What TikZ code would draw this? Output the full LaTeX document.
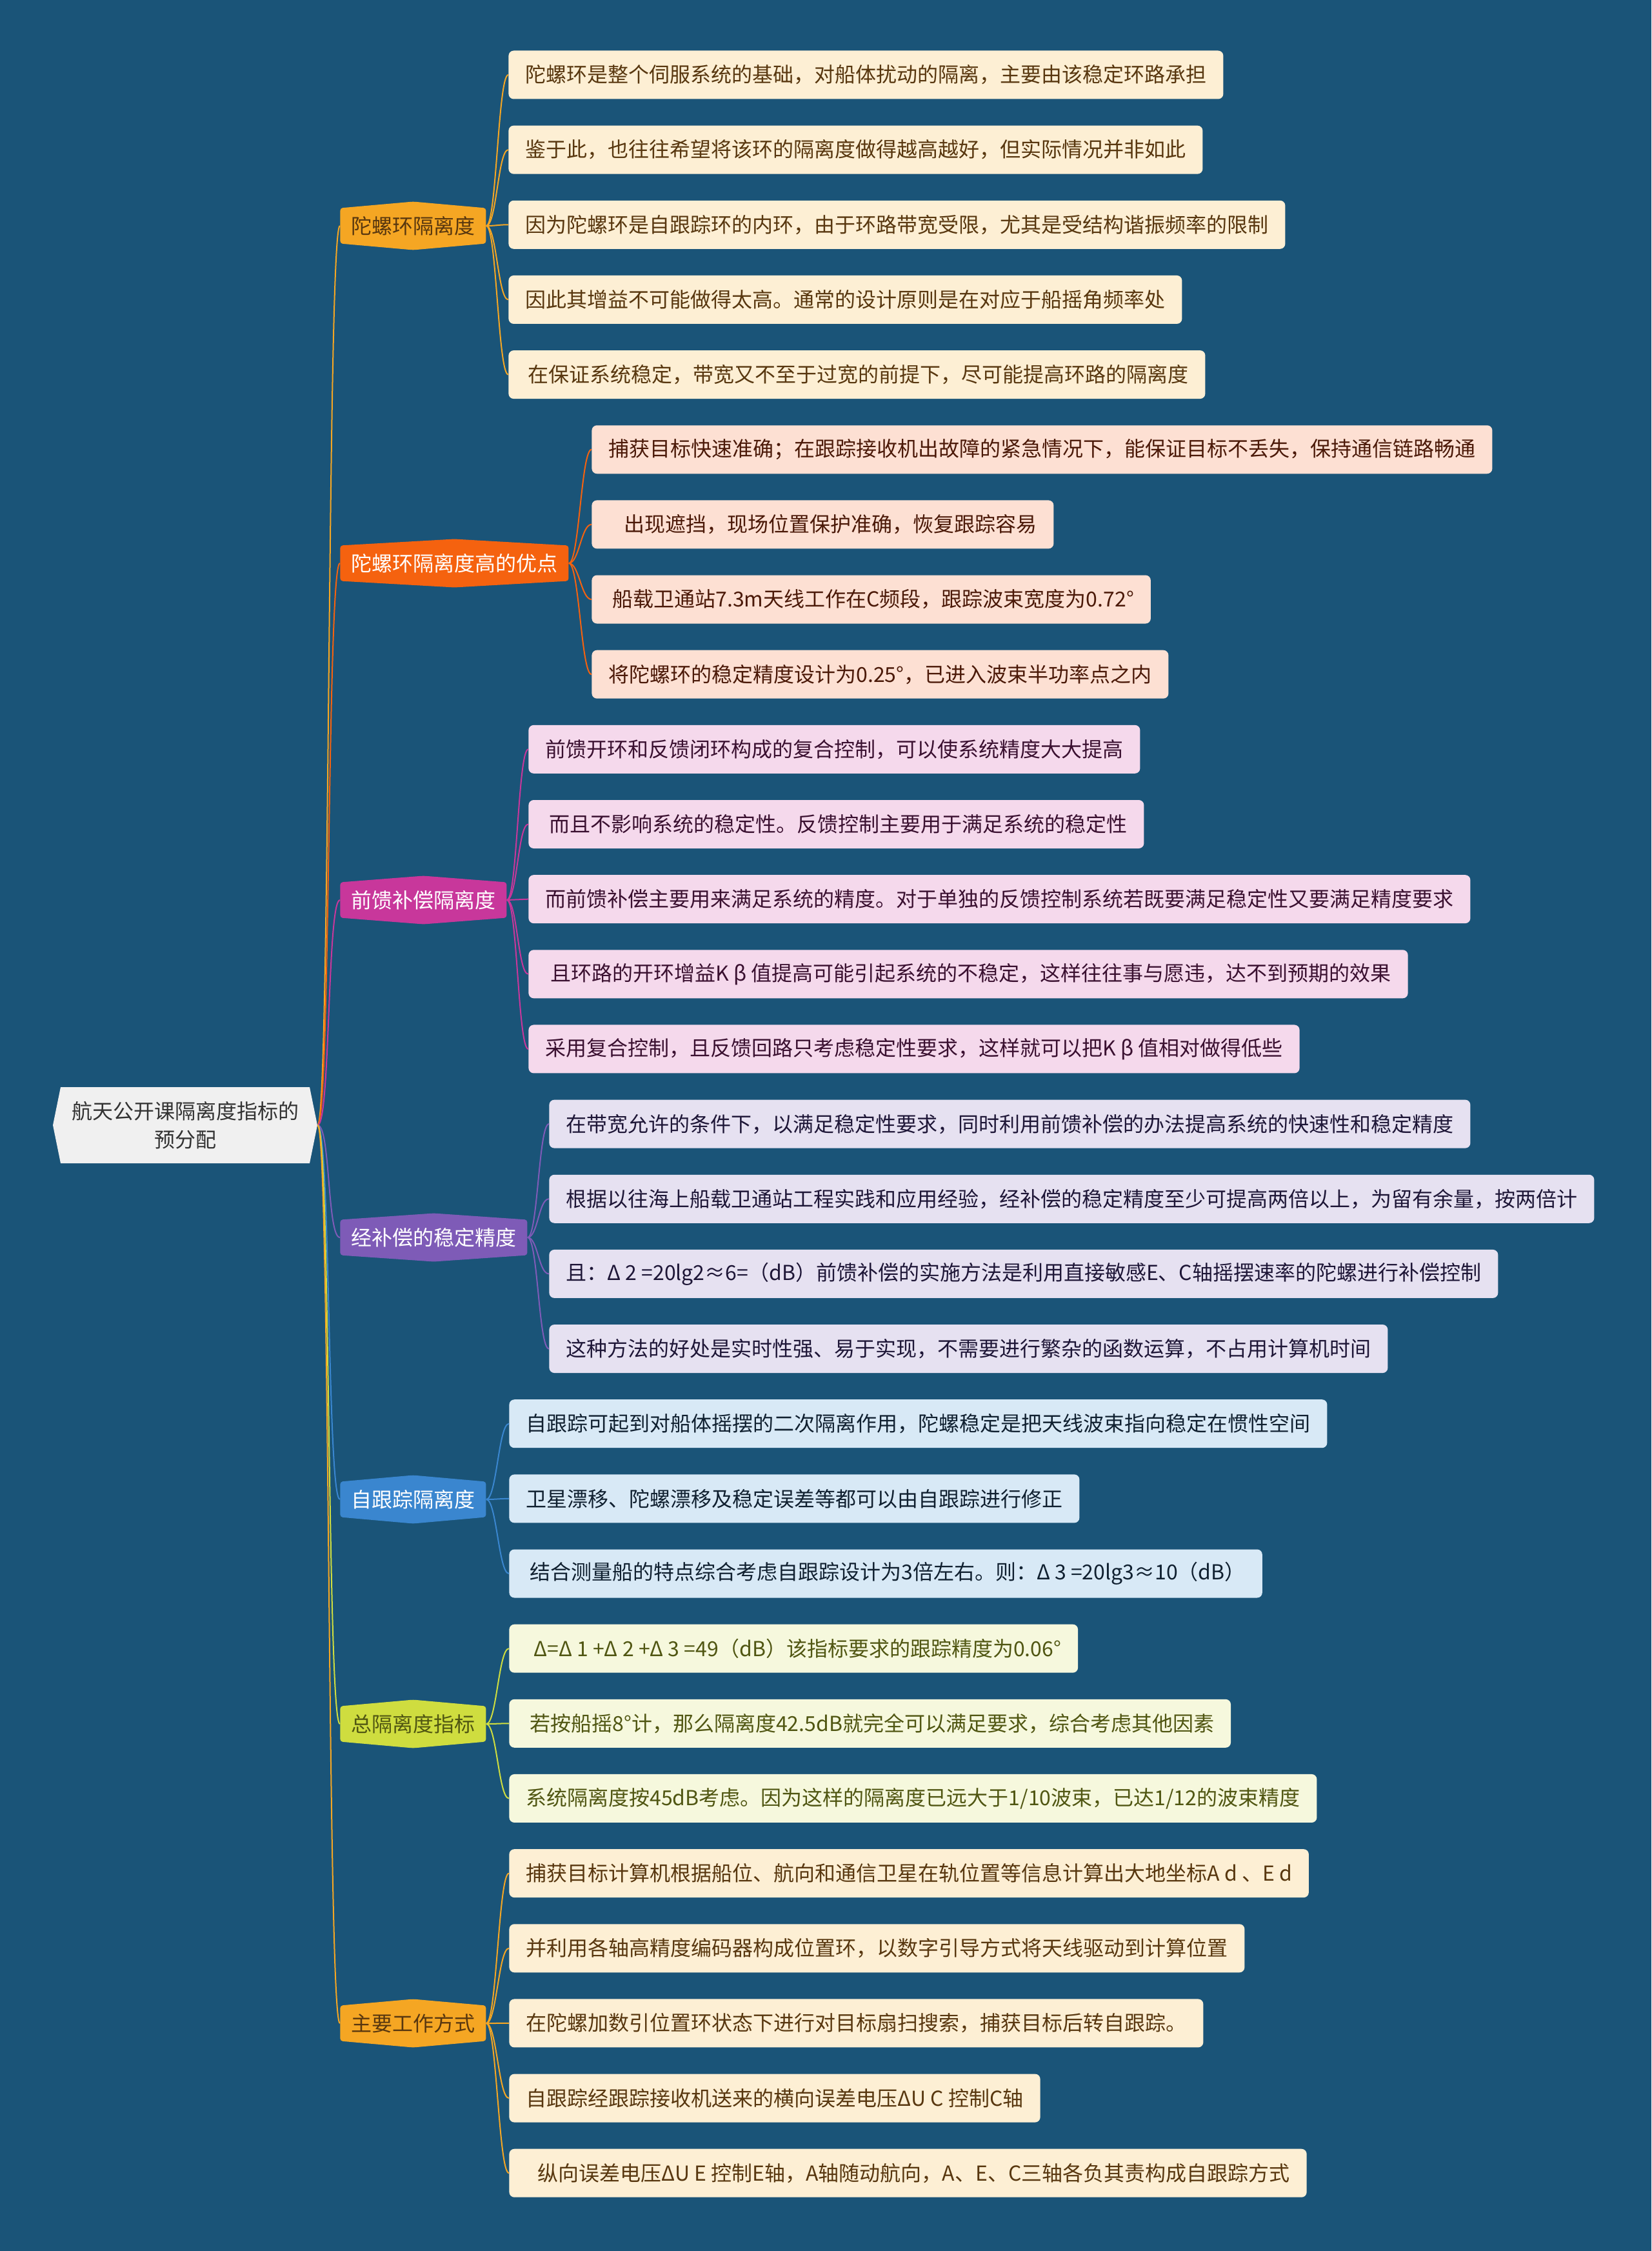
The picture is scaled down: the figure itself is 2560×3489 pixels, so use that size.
\documentclass[tikz,border=0pt]{standalone}
\usepackage{fontspec}
\setmainfont{Noto Sans CJK SC}
\usetikzlibrary{calc,positioning}

\definecolor{bg}{RGB}{26,84,120}
\definecolor{rootfill}{RGB}{240,240,240}
\definecolor{c1}{RGB}{245,166,35}
\definecolor{c2}{RGB}{245,98,15}
\definecolor{c3}{RGB}{200,55,155}
\definecolor{c4}{RGB}{126,91,183}
\definecolor{c5}{RGB}{58,134,207}
\definecolor{c6}{RGB}{207,221,63}
\definecolor{f1}{RGB}{253,239,212}
\definecolor{f2}{RGB}{253,224,211}
\definecolor{f3}{RGB}{245,217,236}
\definecolor{f4}{RGB}{230,225,241}
\definecolor{f5}{RGB}{216,233,246}
\definecolor{f6}{RGB}{246,248,221}
\definecolor{t1}{RGB}{88,55,15}
\definecolor{t2}{RGB}{75,25,8}
\definecolor{t3}{RGB}{58,16,48}
\definecolor{t4}{RGB}{30,22,55}
\definecolor{t5}{RGB}{16,32,48}
\definecolor{t6}{RGB}{80,86,18}
\newcommand\mapfont{\fontsize{16pt}{20pt}\selectfont}

\tikzset{
  root/.style={font=\fontsize{16pt}{22pt}\selectfont, align=center, text=black!80,
    minimum width=205pt, minimum height=59pt, inner sep=0pt, fill=bg,
    path picture={\fill[rootfill]
      ($(path picture bounding box.north west)+(6pt,0)$) --
      ($(path picture bounding box.north east)+(-6pt,0)$) --
      (path picture bounding box.east) --
      ($(path picture bounding box.south east)+(-6pt,0)$) --
      ($(path picture bounding box.south west)+(6pt,0)$) --
      (path picture bounding box.west) -- cycle;}},
  branch/.style={font=\mapfont, anchor=west, minimum height=37.5pt,
    inner xsep=8.5pt, inner ysep=0pt, fill=bg,
    path picture={\fill[#1, rounded corners=2pt]
      ($(path picture bounding box.north west)+(0,-5pt)$) --
      (path picture bounding box.north) --
      ($(path picture bounding box.north east)+(0,-5pt)$) --
      ($(path picture bounding box.south east)+(0,5pt)$) --
      (path picture bounding box.south) --
      ($(path picture bounding box.south west)+(0,5pt)$) -- cycle;}},
  leaf/.style={font=\mapfont, anchor=west, minimum height=37.5pt,
    inner xsep=13pt, inner ysep=0pt, rounded corners=4pt, fill=#1},
  link/.style={draw=#1, line width=1pt},
}

\begin{document}
\begin{tikzpicture}[x=0.5pt, y=-0.5pt]
  \fill[bg] (0,0) rectangle (2560,3489);
  \useasboundingbox (0,0) rectangle (2560,3489);

  \node[root] at (287,1744) (root) {航天公开课隔离度指标的\\预分配};

  \node[branch=c1, text=t1] at (527,350) (b1) {陀螺环隔离度};
  \node[branch=c2, text=white] at (527,873) (b2) {陀螺环隔离度高的优点};
  \node[branch=c3, text=white] at (527,1395) (b3) {前馈补偿隔离度};
  \node[branch=c4, text=white] at (527,1918) (b4) {经补偿的稳定精度};
  \node[branch=c5, text=white] at (527,2324) (b5) {自跟踪隔离度};
  \node[branch=c6, text=t6] at (527,2672) (b6) {总隔离度指标};
  \node[branch=c1, text=t1] at (527,3136) (b7) {主要工作方式};

  \foreach \b/\c in {b1/c1,b2/c2,b3/c3,b4/c4,b5/c5,b6/c6,b7/c1}
    \draw[link=\c] (root.east) .. controls +(10pt,0) and +(-10pt,0) .. (\b.west);

  % 陀螺环隔离度
  \foreach \t [count=\i from 0] in {
    {陀螺环是整个伺服系统的基础，对船体扰动的隔离，主要由该稳定环路承担},
    {鉴于此，也往往希望将该环的隔离度做得越高越好，但实际情况并非如此},
    {因为陀螺环是自跟踪环的内环，由于环路带宽受限，尤其是受结构谐振频率的限制},
    {因此其增益不可能做得太高。通常的设计原则是在对应于船摇角频率处},
    {\hspace{2pt}在保证系统稳定，带宽又不至于过宽的前提下，尽可能提高环路的隔离度}} {
    \pgfmathsetmacro\yy{116+116.15*\i}
    \node[leaf=f1, text=t1] at (788,\yy) (l1\i) {\t};
    \draw[link=c1] (b1.east) .. controls +(8pt,0) and +(-8pt,0) .. (l1\i.west);
  }

  % 陀螺环隔离度高的优点
  \foreach \t [count=\i from 5] in {
    {捕获目标快速准确；在跟踪接收机出故障的紧急情况下，能保证目标不丢失，保持通信链路畅通},
    {\hspace{12pt}出现遮挡，现场位置保护准确，恢复跟踪容易},
    {\hspace{3pt}船载卫通站7.3m天线工作在C频段，跟踪波束宽度为0.72°},
    {将陀螺环的稳定精度设计为0.25°，已进入波束半功率点之内}} {
    \pgfmathsetmacro\yy{116+116.15*\i}
    \node[leaf=f2, text=t2] at (917,\yy) (l2\i) {\t};
    \draw[link=c2] (b2.east) .. controls +(8pt,0) and +(-8pt,0) .. (l2\i.west);
  }

  % 前馈补偿隔离度
  \foreach \t [count=\i from 9] in {
    {前馈开环和反馈闭环构成的复合控制，可以使系统精度大大提高},
    {\hspace{3pt}而且不影响系统的稳定性。反馈控制主要用于满足系统的稳定性},
    {而前馈补偿主要用来满足系统的精度。对于单独的反馈控制系统若既要满足稳定性又要满足精度要求},
    {\hspace{4pt}且环路的开环增益K β 值提高可能引起系统的不稳定，这样往往事与愿违，达不到预期的效果},
    {采用复合控制，且反馈回路只考虑稳定性要求，这样就可以把K β 值相对做得低些}} {
    \pgfmathsetmacro\yy{116+116.15*\i}
    \node[leaf=f3, text=t3] at (819,\yy) (l3\i) {\t};
    \draw[link=c3] (b3.east) .. controls +(8pt,0) and +(-8pt,0) .. (l3\i.west);
  }

  % 经补偿的稳定精度
  \foreach \t [count=\i from 14] in {
    {在带宽允许的条件下，以满足稳定性要求，同时利用前馈补偿的办法提高系统的快速性和稳定精度},
    {根据以往海上船载卫通站工程实践和应用经验，经补偿的稳定精度至少可提高两倍以上，为留有余量，按两倍计},
    {且：Δ 2 =20lg2≈6=（dB）前馈补偿的实施方法是利用直接敏感E、C轴摇摆速率的陀螺进行补偿控制},
    {这种方法的好处是实时性强、易于实现，不需要进行繁杂的函数运算，不占用计算机时间}} {
    \pgfmathsetmacro\yy{116+116.15*\i}
    \node[leaf=f4, text=t4] at (851,\yy) (l4\i) {\t};
    \draw[link=c4] (b4.east) .. controls +(8pt,0) and +(-8pt,0) .. (l4\i.west);
  }

  % 自跟踪隔离度
  \foreach \t [count=\i from 18] in {
    {自跟踪可起到对船体摇摆的二次隔离作用，陀螺稳定是把天线波束指向稳定在惯性空间},
    {卫星漂移、陀螺漂移及稳定误差等都可以由自跟踪进行修正},
    {\hspace{3pt}结合测量船的特点综合考虑自跟踪设计为3倍左右。则：Δ 3 =20lg3≈10（dB）}} {
    \pgfmathsetmacro\yy{116+116.15*\i}
    \node[leaf=f5, text=t5] at (789,\yy) (l5\i) {\t};
    \draw[link=c5] (b5.east) .. controls +(8pt,0) and +(-8pt,0) .. (l5\i.west);
  }

  % 总隔离度指标
  \foreach \t [count=\i from 21] in {
    {\hspace{6pt}Δ=Δ 1 +Δ 2 +Δ 3 =49（dB）该指标要求的跟踪精度为0.06°},
    {\hspace{3pt}若按船摇8°计，那么隔离度42.5dB就完全可以满足要求，综合考虑其他因素},
    {系统隔离度按45dB考虑。因为这样的隔离度已远大于1/10波束，已达1/12的波束精度}} {
    \pgfmathsetmacro\yy{116+116.15*\i}
    \node[leaf=f6, text=t6] at (789,\yy) (l6\i) {\t};
    \draw[link=c6] (b6.east) .. controls +(8pt,0) and +(-8pt,0) .. (l6\i.west);
  }

  % 主要工作方式
  \foreach \t [count=\i from 24] in {
    {捕获目标计算机根据船位、航向和通信卫星在轨位置等信息计算出大地坐标A d 、E d},
    {并利用各轴高精度编码器构成位置环，以数字引导方式将天线驱动到计算位置},
    {在陀螺加数引位置环状态下进行对目标扇扫搜索，捕获目标后转自跟踪。},
    {自跟踪经跟踪接收机送来的横向误差电压ΔU C 控制C轴},
    {\hspace{9pt}纵向误差电压ΔU E 控制E轴，A轴随动航向，A、E、C三轴各负其责构成自跟踪方式}} {
    \pgfmathsetmacro\yy{116+116.15*\i}
    \node[leaf=f1, text=t1] at (789,\yy) (l7\i) {\t};
    \draw[link=c1] (b7.east) .. controls +(8pt,0) and +(-8pt,0) .. (l7\i.west);
  }
\end{tikzpicture}
\end{document}
